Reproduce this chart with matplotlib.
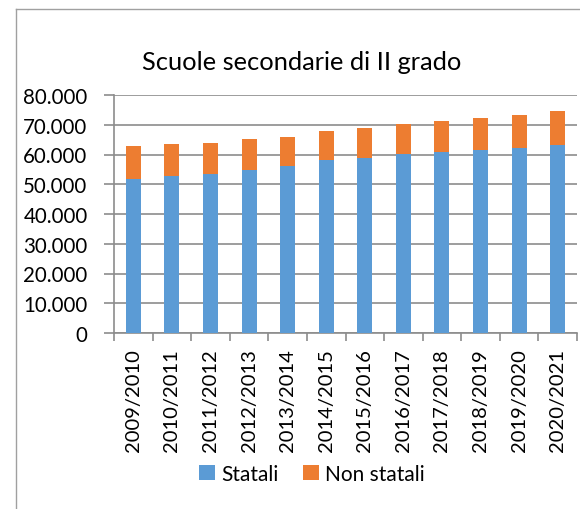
import matplotlib.pyplot as plt
from matplotlib.lines import Line2D
from matplotlib.ticker import FuncFormatter, MultipleLocator

anni = ["2009/2010", "2010/2011", "2011/2012", "2012/2013", "2013/2014", "2014/2015",
        "2015/2016", "2016/2017", "2017/2018", "2018/2019", "2019/2020", "2020/2021"]
statali = [51900, 52900, 53300, 54700, 56000, 58000, 58700, 60200, 61000, 61600, 62200, 63300]
non_statali = [11000, 10600, 10600, 10400, 10000, 9800, 10200, 10100, 10400, 10700, 11100, 11400]

blu = "#5B9BD5"
arancio = "#ED7D31"
grigio = "#8C8C8C"

plt.rcParams['font.family'] = ['Lato', 'DejaVu Sans']

fig = plt.figure(figsize=(5.8, 5.1), dpi=100)
ax = fig.add_axes([114/580, 1 - 334/510, 463/580, 238/510])

x = range(len(anni))
ax.bar(x, statali, width=0.39, color=blu, label="Statali", zorder=3)
ax.bar(x, non_statali, width=0.39, bottom=statali, color=arancio, label="Non statali", zorder=3)

ax.set_xlim(-0.5, len(anni) - 0.5)
ax.set_ylim(0, 80000)
ax.yaxis.set_major_locator(MultipleLocator(10000))
ax.yaxis.set_major_formatter(FuncFormatter(lambda v, p: f"{int(v):,}".replace(",", ".")))
ax.grid(axis="y", color=grigio, linewidth=1.2, zorder=0)

ax.set_xticks(list(x))
ax.set_xticklabels(anni, rotation=90)
ax.set_xticks([i - 0.5 for i in range(len(anni) + 1)], minor=True)
ax.tick_params(axis="x", which="major", length=0, pad=11, labelsize=14.5)
ax.tick_params(axis="x", which="minor", length=6, color=grigio, width=1.2)
ax.tick_params(axis="y", length=7, color=grigio, width=1.2, pad=12, labelsize=14.8)

for s in ["top", "right"]:
    ax.spines[s].set_visible(False)
for s in ["left", "bottom"]:
    ax.spines[s].set_color(grigio)
    ax.spines[s].set_linewidth(1.2)

fig.text(302/580, 1 - 62/510, "Scuole secondarie di II grado", ha="center", va="center", fontsize=18.3)

fig.legend(loc="center", bbox_to_anchor=(312/580, 1 - 475/510), ncol=2, frameon=False,
           fontsize=15, handlelength=0.75, handleheight=0.75, handletextpad=0.3, columnspacing=1.2)

# cornice esterna
fig.add_artist(Line2D([16/580, 1], [1 - 10/510, 1 - 10/510], color="#A0A0A0", linewidth=1))
fig.add_artist(Line2D([16/580, 16/580], [0, 1 - 10/510], color="#A0A0A0", linewidth=1))

fig.savefig("out.png", dpi=100)
